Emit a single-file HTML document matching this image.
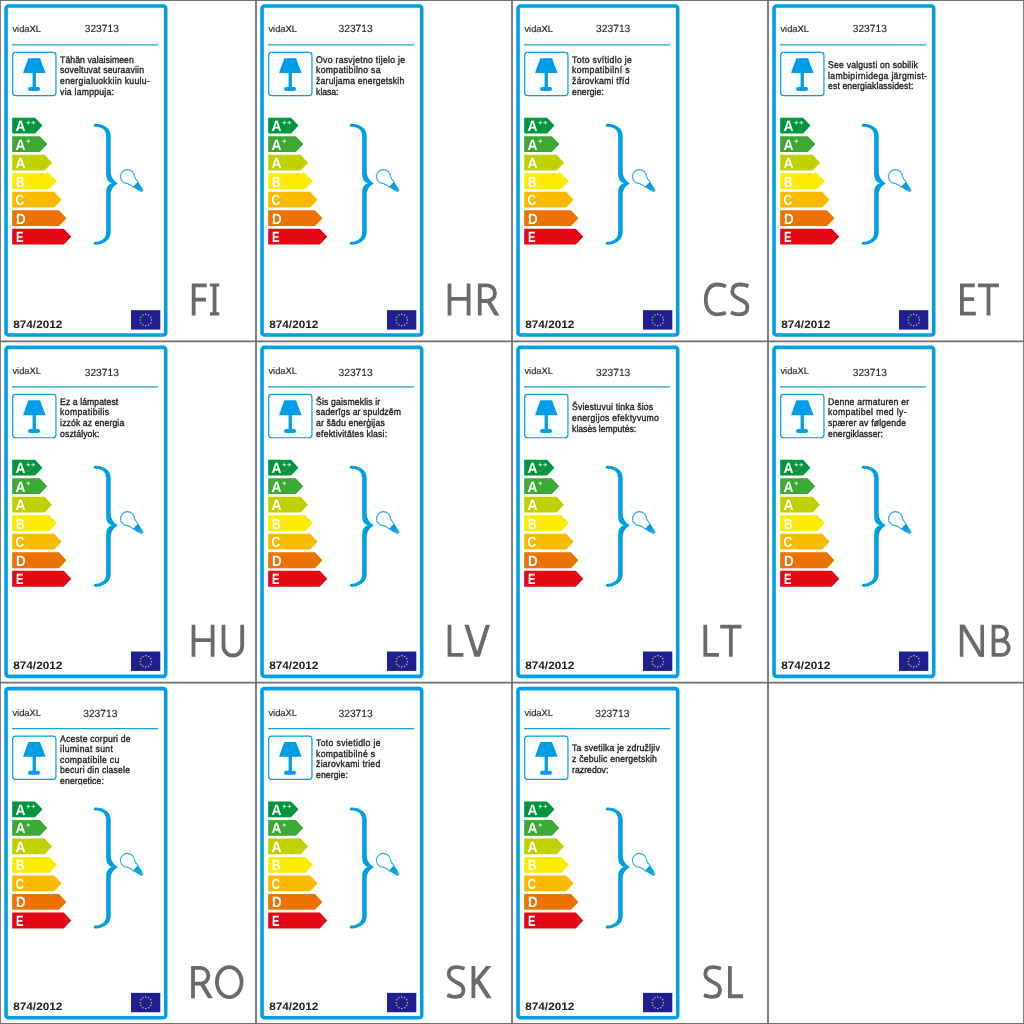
<!DOCTYPE html>
<html><head><meta charset="utf-8"><title>Energy labels</title>
<style>html,body{margin:0;padding:0;background:#fff}body{width:1024px;height:1024px;overflow:hidden}svg{display:block;will-change:transform;font-family:"Liberation Sans",sans-serif;text-rendering:geometricPrecision}</style></head><body>
<svg width="1024" height="1024" viewBox="0 0 1024 1024">
<defs><clipPath id="lc"><rect x="180" y="283.4" width="75" height="32.1"/></clipPath><clipPath id="tc"><rect x="55" y="48" width="110" height="53"/></clipPath><linearGradient id="bg" x1="0" x2="1" y1="0" y2="0"><stop offset="0" stop-color="#009ee5"/><stop offset=".55" stop-color="#11a3e6"/><stop offset="1" stop-color="#58bdec"/></linearGradient></defs>
<rect width="1024" height="1024" fill="#fff"/>
<g transform="translate(0 0)">
<rect x="6.05" y="6" width="159.65" height="329.05" rx="2.4" fill="#fff" stroke="#009ee5" stroke-width="3.6"/>
<g>
<text x="12.4" y="31.8" font-size="9.4" fill="#262626" stroke="#262626" stroke-width=".15" textLength="28.6" lengthAdjust="spacingAndGlyphs">vidaXL</text>
<text x="84.69999999999999" y="32.4" font-size="10.4" fill="#262626" stroke="#262626" stroke-width=".12" textLength="34.2" lengthAdjust="spacingAndGlyphs">323713</text>
<line x1="12" y1="44.9" x2="158" y2="44.9" stroke="#12a3e6" stroke-width="1.25"/>
<rect x="12.65" y="52.4" width="43.3" height="43.3" rx="3" fill="none" stroke="#009ee5" stroke-width="1.2"/>
<path d="M28.3 58.2H40L45.6 73.1H35.9V86.9H38A2 2 0 0 1 38 90.9H30A2 2 0 0 1 30 86.9H32.6V73.1H23Z" fill="#009ee5"/>
<g font-size="9.6" fill="#1c1c1c" stroke="#1c1c1c" stroke-width=".36">
<text transform="translate(60.1 62.66) scale(0.9 1)" textLength="81.78" lengthAdjust="spacing">Tähän valaisimeen</text>
<text transform="translate(60.1 73.39) scale(0.9 1)" textLength="93.22" lengthAdjust="spacing">soveltuvat seuraaviin</text>
<text transform="translate(60.1 84.12) scale(0.9 1)" textLength="99.56" lengthAdjust="spacing">energialuokkiin kuulu-</text>
<text transform="translate(60.1 94.84) scale(0.9 1)" textLength="59.89" lengthAdjust="spacing">via lamppuja:</text>
</g>
<path d="M12.2 117.7H35L42.5 125.6L35 133.5H12.2Z" fill="#009640"/>
<text transform="translate(15.6 131) scale(0.93 1)" font-size="14.8" font-weight="bold" fill="#fff">A</text>
<path d="M26.4 122.7H30.2M28.3 120.8V124.6" stroke="#fff" stroke-opacity=".9" stroke-width=".85" fill="none"/>
<path d="M31.4 122.7H35.2M33.3 120.8V124.6" stroke="#fff" stroke-opacity=".9" stroke-width=".85" fill="none"/>
<path d="M12.2 136.22H39.79L47.29 144.12L39.79 152.02H12.2Z" fill="#3aaa35"/>
<text transform="translate(15.6 149.52) scale(0.93 1)" font-size="14.8" font-weight="bold" fill="#fff">A</text>
<path d="M26.4 141.22H30.2M28.3 139.32V143.12" stroke="#fff" stroke-opacity=".9" stroke-width=".85" fill="none"/>
<path d="M12.2 154.74H44.58L52.08 162.64L44.58 170.54H12.2Z" fill="#c1d100"/>
<text transform="translate(15.6 168.04) scale(0.93 1)" font-size="14.8" font-weight="bold" fill="#fff">A</text>
<path d="M12.2 173.26H49.37L56.87 181.16L49.37 189.06H12.2Z" fill="#fdeb00"/>
<text transform="translate(15.9 186.56) scale(0.8 1)" font-size="14.8" font-weight="bold" fill="#fff">B</text>
<path d="M12.2 191.78H54.16L61.66 199.68L54.16 207.58H12.2Z" fill="#fbb900"/>
<text transform="translate(15.5 205.08) scale(0.82 1)" font-size="14.8" font-weight="bold" fill="#fff">C</text>
<path d="M12.2 210.3H58.95L66.45 218.2L58.95 226.1H12.2Z" fill="#ee7203"/>
<text transform="translate(15.9 223.6) scale(0.9 1)" font-size="14.8" font-weight="bold" fill="#fff">D</text>
<path d="M12.2 228.82H63.74L71.24 236.72L63.74 244.62H12.2Z" fill="#e30613"/>
<text transform="translate(15.9 242.12) scale(0.76 1)" font-size="14.8" font-weight="bold" fill="#fff">E</text>
<path d="M95.2 123.7C101 123.5 110.7 126.5 110.7 135.5V172C110.7 176 113 180.5 118 183.3C113 186.1 110.7 190.6 110.7 194.6V232.5C110.7 241.5 101 244.8 95.2 244.8A1.5 1.5 0 0 1 95.2 241.8C100.5 241.8 106.2 239 106.2 232V192C106.2 187.5 108 184.8 111.6 183.3C108 181.8 106.2 179.1 106.2 174.6V136C106.2 129 100.5 126.7 95.2 126.7A1.5 1.5 0 0 1 95.2 123.7Z" fill="#009ee5"/>
<g transform="translate(127.5 176.6) rotate(44)"><path d="M4.95 4.95A7 7 0 1 1 4.95 -4.95Q7 -3.7 11.6 -3.4V3.4Q7 3.7 4.95 4.95Z" fill="#fff" stroke="#2cabe8" stroke-width="1.1" stroke-linejoin="round"/><path d="M11.4 -3.6L19.4 -2A2 2 0 0 1 19.4 2L11.4 3.6Z" fill="url(#bg)"/></g>
</g>
<text x="13.2" y="327.8" font-size="10.8" font-weight="bold" fill="#1c1c1c" textLength="49.2" lengthAdjust="spacingAndGlyphs">874/2012</text>
<rect x="131" y="310.2" width="29.3" height="19.4" fill="#1f1f92"/>
<circle cx="145.8" cy="314.35" r="0.75" fill="#d2c95a"/>
<circle cx="148.65" cy="315.11" r="0.75" fill="#d2c95a"/>
<circle cx="150.74" cy="317.2" r="0.75" fill="#d2c95a"/>
<circle cx="151.5" cy="320.05" r="0.75" fill="#d2c95a"/>
<circle cx="150.74" cy="322.9" r="0.75" fill="#d2c95a"/>
<circle cx="148.65" cy="324.99" r="0.75" fill="#d2c95a"/>
<circle cx="145.8" cy="325.75" r="0.75" fill="#d2c95a"/>
<circle cx="142.95" cy="324.99" r="0.75" fill="#d2c95a"/>
<circle cx="140.86" cy="322.9" r="0.75" fill="#d2c95a"/>
<circle cx="140.1" cy="320.05" r="0.75" fill="#d2c95a"/>
<circle cx="140.86" cy="317.2" r="0.75" fill="#d2c95a"/>
<circle cx="142.95" cy="315.11" r="0.75" fill="#d2c95a"/>
<path d="M206.75 285.3H193.65V315.5M193.65 299.7H206.05" fill="none" stroke="#6a6a6a" stroke-width="3.8" stroke-linejoin="miter" stroke-linecap="butt"/>
<path d="M209.9 283.4H219.25V286.6H216.47V312.3H219.25V315.5H209.9V312.3H212.67V286.6H209.9Z" fill="#6a6a6a"/>
</g>
<g transform="translate(256 0)">
<rect x="6.05" y="6" width="159.65" height="329.05" rx="2.4" fill="#fff" stroke="#009ee5" stroke-width="3.6"/>
<g>
<text x="12.4" y="31.8" font-size="9.4" fill="#262626" stroke="#262626" stroke-width=".15" textLength="28.6" lengthAdjust="spacingAndGlyphs">vidaXL</text>
<text x="82.5" y="32.4" font-size="10.4" fill="#262626" stroke="#262626" stroke-width=".12" textLength="34.2" lengthAdjust="spacingAndGlyphs">323713</text>
<line x1="12" y1="44.9" x2="158" y2="44.9" stroke="#12a3e6" stroke-width="1.25"/>
<rect x="12.65" y="52.4" width="43.3" height="43.3" rx="3" fill="none" stroke="#009ee5" stroke-width="1.2"/>
<path d="M28.3 58.2H40L45.6 73.1H35.9V86.9H38A2 2 0 0 1 38 90.9H30A2 2 0 0 1 30 86.9H32.6V73.1H23Z" fill="#009ee5"/>
<g font-size="9.6" fill="#1c1c1c" stroke="#1c1c1c" stroke-width=".36">
<text transform="translate(60.1 62.66) scale(0.9 1)" textLength="98.89" lengthAdjust="spacing">Ovo rasvjetno tijelo je</text>
<text transform="translate(60.1 73.39) scale(0.9 1)" textLength="71.56" lengthAdjust="spacing">kompatibilno sa</text>
<text transform="translate(60.1 84.12) scale(0.9 1)" textLength="97.89" lengthAdjust="spacing">žaruljama energetskih</text>
<text transform="translate(60.1 94.84) scale(0.9 1)" textLength="24.89" lengthAdjust="spacing">klasa:</text>
</g>
<path d="M12.2 117.7H35L42.5 125.6L35 133.5H12.2Z" fill="#009640"/>
<text transform="translate(15.6 131) scale(0.93 1)" font-size="14.8" font-weight="bold" fill="#fff">A</text>
<path d="M26.4 122.7H30.2M28.3 120.8V124.6" stroke="#fff" stroke-opacity=".9" stroke-width=".85" fill="none"/>
<path d="M31.4 122.7H35.2M33.3 120.8V124.6" stroke="#fff" stroke-opacity=".9" stroke-width=".85" fill="none"/>
<path d="M12.2 136.22H39.79L47.29 144.12L39.79 152.02H12.2Z" fill="#3aaa35"/>
<text transform="translate(15.6 149.52) scale(0.93 1)" font-size="14.8" font-weight="bold" fill="#fff">A</text>
<path d="M26.4 141.22H30.2M28.3 139.32V143.12" stroke="#fff" stroke-opacity=".9" stroke-width=".85" fill="none"/>
<path d="M12.2 154.74H44.58L52.08 162.64L44.58 170.54H12.2Z" fill="#c1d100"/>
<text transform="translate(15.6 168.04) scale(0.93 1)" font-size="14.8" font-weight="bold" fill="#fff">A</text>
<path d="M12.2 173.26H49.37L56.87 181.16L49.37 189.06H12.2Z" fill="#fdeb00"/>
<text transform="translate(15.9 186.56) scale(0.8 1)" font-size="14.8" font-weight="bold" fill="#fff">B</text>
<path d="M12.2 191.78H54.16L61.66 199.68L54.16 207.58H12.2Z" fill="#fbb900"/>
<text transform="translate(15.5 205.08) scale(0.82 1)" font-size="14.8" font-weight="bold" fill="#fff">C</text>
<path d="M12.2 210.3H58.95L66.45 218.2L58.95 226.1H12.2Z" fill="#ee7203"/>
<text transform="translate(15.9 223.6) scale(0.9 1)" font-size="14.8" font-weight="bold" fill="#fff">D</text>
<path d="M12.2 228.82H63.74L71.24 236.72L63.74 244.62H12.2Z" fill="#e30613"/>
<text transform="translate(15.9 242.12) scale(0.76 1)" font-size="14.8" font-weight="bold" fill="#fff">E</text>
<path d="M95.2 123.7C101 123.5 110.7 126.5 110.7 135.5V172C110.7 176 113 180.5 118 183.3C113 186.1 110.7 190.6 110.7 194.6V232.5C110.7 241.5 101 244.8 95.2 244.8A1.5 1.5 0 0 1 95.2 241.8C100.5 241.8 106.2 239 106.2 232V192C106.2 187.5 108 184.8 111.6 183.3C108 181.8 106.2 179.1 106.2 174.6V136C106.2 129 100.5 126.7 95.2 126.7A1.5 1.5 0 0 1 95.2 123.7Z" fill="#009ee5"/>
<g transform="translate(127.5 176.6) rotate(44)"><path d="M4.95 4.95A7 7 0 1 1 4.95 -4.95Q7 -3.7 11.6 -3.4V3.4Q7 3.7 4.95 4.95Z" fill="#fff" stroke="#2cabe8" stroke-width="1.1" stroke-linejoin="round"/><path d="M11.4 -3.6L19.4 -2A2 2 0 0 1 19.4 2L11.4 3.6Z" fill="url(#bg)"/></g>
</g>
<text x="13.2" y="327.8" font-size="10.8" font-weight="bold" fill="#1c1c1c" textLength="49.2" lengthAdjust="spacingAndGlyphs">874/2012</text>
<rect x="131" y="310.2" width="29.3" height="19.4" fill="#1f1f92"/>
<circle cx="145.8" cy="314.35" r="0.75" fill="#d2c95a"/>
<circle cx="148.65" cy="315.11" r="0.75" fill="#d2c95a"/>
<circle cx="150.74" cy="317.2" r="0.75" fill="#d2c95a"/>
<circle cx="151.5" cy="320.05" r="0.75" fill="#d2c95a"/>
<circle cx="150.74" cy="322.9" r="0.75" fill="#d2c95a"/>
<circle cx="148.65" cy="324.99" r="0.75" fill="#d2c95a"/>
<circle cx="145.8" cy="325.75" r="0.75" fill="#d2c95a"/>
<circle cx="142.95" cy="324.99" r="0.75" fill="#d2c95a"/>
<circle cx="140.86" cy="322.9" r="0.75" fill="#d2c95a"/>
<circle cx="140.1" cy="320.05" r="0.75" fill="#d2c95a"/>
<circle cx="140.86" cy="317.2" r="0.75" fill="#d2c95a"/>
<circle cx="142.95" cy="315.11" r="0.75" fill="#d2c95a"/>
<path d="M193.5 283.4V315.5M212.6 283.4V315.5M193.5 298.8H212.6" fill="none" stroke="#6a6a6a" stroke-width="3.8" stroke-linejoin="miter" stroke-linecap="butt"/>
<path d="M223.75 315.5V285.3H231.15A7.85 7.85 0 0 1 231.15 301H223.75" fill="none" stroke="#6a6a6a" stroke-width="3.8" stroke-linejoin="miter" stroke-linecap="butt"/><path d="M232.03 300.5L242.2 317.5" fill="none" stroke="#6a6a6a" stroke-width="4.1" stroke-linejoin="miter" stroke-linecap="butt" clip-path="url(#lc)"/>
</g>
<g transform="translate(512 0)">
<rect x="6.05" y="6" width="159.65" height="329.05" rx="2.4" fill="#fff" stroke="#009ee5" stroke-width="3.6"/>
<g>
<text x="12.4" y="31.8" font-size="9.4" fill="#262626" stroke="#262626" stroke-width=".15" textLength="28.6" lengthAdjust="spacingAndGlyphs">vidaXL</text>
<text x="84.1" y="32.4" font-size="10.4" fill="#262626" stroke="#262626" stroke-width=".12" textLength="34.2" lengthAdjust="spacingAndGlyphs">323713</text>
<line x1="12" y1="44.9" x2="158" y2="44.9" stroke="#12a3e6" stroke-width="1.25"/>
<rect x="12.65" y="52.4" width="43.3" height="43.3" rx="3" fill="none" stroke="#009ee5" stroke-width="1.2"/>
<path d="M28.3 58.2H40L45.6 73.1H35.9V86.9H38A2 2 0 0 1 38 90.9H30A2 2 0 0 1 30 86.9H32.6V73.1H23Z" fill="#009ee5"/>
<g font-size="9.6" fill="#1c1c1c" stroke="#1c1c1c" stroke-width=".36">
<text transform="translate(60.1 62.66) scale(0.9 1)" textLength="66.44" lengthAdjust="spacing">Toto svítidlo je</text>
<text transform="translate(60.1 73.39) scale(0.9 1)" textLength="63.78" lengthAdjust="spacing">kompatibilní s</text>
<text transform="translate(60.1 84.12) scale(0.9 1)" textLength="63.78" lengthAdjust="spacing">žárovkami tříd</text>
<text transform="translate(60.1 94.84) scale(0.9 1)" textLength="35.22" lengthAdjust="spacing">energie:</text>
</g>
<path d="M12.2 117.7H35L42.5 125.6L35 133.5H12.2Z" fill="#009640"/>
<text transform="translate(15.6 131) scale(0.93 1)" font-size="14.8" font-weight="bold" fill="#fff">A</text>
<path d="M26.4 122.7H30.2M28.3 120.8V124.6" stroke="#fff" stroke-opacity=".9" stroke-width=".85" fill="none"/>
<path d="M31.4 122.7H35.2M33.3 120.8V124.6" stroke="#fff" stroke-opacity=".9" stroke-width=".85" fill="none"/>
<path d="M12.2 136.22H39.79L47.29 144.12L39.79 152.02H12.2Z" fill="#3aaa35"/>
<text transform="translate(15.6 149.52) scale(0.93 1)" font-size="14.8" font-weight="bold" fill="#fff">A</text>
<path d="M26.4 141.22H30.2M28.3 139.32V143.12" stroke="#fff" stroke-opacity=".9" stroke-width=".85" fill="none"/>
<path d="M12.2 154.74H44.58L52.08 162.64L44.58 170.54H12.2Z" fill="#c1d100"/>
<text transform="translate(15.6 168.04) scale(0.93 1)" font-size="14.8" font-weight="bold" fill="#fff">A</text>
<path d="M12.2 173.26H49.37L56.87 181.16L49.37 189.06H12.2Z" fill="#fdeb00"/>
<text transform="translate(15.9 186.56) scale(0.8 1)" font-size="14.8" font-weight="bold" fill="#fff">B</text>
<path d="M12.2 191.78H54.16L61.66 199.68L54.16 207.58H12.2Z" fill="#fbb900"/>
<text transform="translate(15.5 205.08) scale(0.82 1)" font-size="14.8" font-weight="bold" fill="#fff">C</text>
<path d="M12.2 210.3H58.95L66.45 218.2L58.95 226.1H12.2Z" fill="#ee7203"/>
<text transform="translate(15.9 223.6) scale(0.9 1)" font-size="14.8" font-weight="bold" fill="#fff">D</text>
<path d="M12.2 228.82H63.74L71.24 236.72L63.74 244.62H12.2Z" fill="#e30613"/>
<text transform="translate(15.9 242.12) scale(0.76 1)" font-size="14.8" font-weight="bold" fill="#fff">E</text>
<path d="M95.2 123.7C101 123.5 110.7 126.5 110.7 135.5V172C110.7 176 113 180.5 118 183.3C113 186.1 110.7 190.6 110.7 194.6V232.5C110.7 241.5 101 244.8 95.2 244.8A1.5 1.5 0 0 1 95.2 241.8C100.5 241.8 106.2 239 106.2 232V192C106.2 187.5 108 184.8 111.6 183.3C108 181.8 106.2 179.1 106.2 174.6V136C106.2 129 100.5 126.7 95.2 126.7A1.5 1.5 0 0 1 95.2 123.7Z" fill="#009ee5"/>
<g transform="translate(127.5 176.6) rotate(44)"><path d="M4.95 4.95A7 7 0 1 1 4.95 -4.95Q7 -3.7 11.6 -3.4V3.4Q7 3.7 4.95 4.95Z" fill="#fff" stroke="#2cabe8" stroke-width="1.1" stroke-linejoin="round"/><path d="M11.4 -3.6L19.4 -2A2 2 0 0 1 19.4 2L11.4 3.6Z" fill="url(#bg)"/></g>
</g>
<text x="13.2" y="327.8" font-size="10.8" font-weight="bold" fill="#1c1c1c" textLength="49.2" lengthAdjust="spacingAndGlyphs">874/2012</text>
<rect x="131" y="310.2" width="29.3" height="19.4" fill="#1f1f92"/>
<circle cx="145.8" cy="314.35" r="0.75" fill="#d2c95a"/>
<circle cx="148.65" cy="315.11" r="0.75" fill="#d2c95a"/>
<circle cx="150.74" cy="317.2" r="0.75" fill="#d2c95a"/>
<circle cx="151.5" cy="320.05" r="0.75" fill="#d2c95a"/>
<circle cx="150.74" cy="322.9" r="0.75" fill="#d2c95a"/>
<circle cx="148.65" cy="324.99" r="0.75" fill="#d2c95a"/>
<circle cx="145.8" cy="325.75" r="0.75" fill="#d2c95a"/>
<circle cx="142.95" cy="324.99" r="0.75" fill="#d2c95a"/>
<circle cx="140.86" cy="322.9" r="0.75" fill="#d2c95a"/>
<circle cx="140.1" cy="320.05" r="0.75" fill="#d2c95a"/>
<circle cx="140.86" cy="317.2" r="0.75" fill="#d2c95a"/>
<circle cx="142.95" cy="315.11" r="0.75" fill="#d2c95a"/>
<path d="M214 286.4C211 285 208.78 284.5 205.28 284.5C197.78 284.5 193.8 290.95 193.8 299.45C193.8 307.95 197.78 314.3 205.28 314.3C208.78 314.3 211 313.8 214 312.7" fill="none" stroke="#6a6a6a" stroke-width="3.8" stroke-linejoin="round" stroke-linecap="butt"/>
<path d="M236.4 286.1C233.7 285.1 231.45 284.5 228.25 284.5C222.85 284.5 220.3 287.1 220.3 291.4C220.3 296 224.65 297.6 227.85 299.4C231.45 301 235.4 302.6 235.4 307.2C235.4 311.9 232.45 314.3 227.25 314.3C223.45 314.3 221.8 313.4 218.9 312.4" fill="none" stroke="#6a6a6a" stroke-width="3.8" stroke-linejoin="round" stroke-linecap="butt"/>
</g>
<g transform="translate(768 0)">
<rect x="6.05" y="6" width="159.65" height="329.05" rx="2.4" fill="#fff" stroke="#009ee5" stroke-width="3.6"/>
<g>
<text x="12.4" y="31.8" font-size="9.4" fill="#262626" stroke="#262626" stroke-width=".15" textLength="28.6" lengthAdjust="spacingAndGlyphs">vidaXL</text>
<text x="84.69999999999999" y="32.4" font-size="10.4" fill="#262626" stroke="#262626" stroke-width=".12" textLength="34.2" lengthAdjust="spacingAndGlyphs">323713</text>
<line x1="12" y1="44.9" x2="158" y2="44.9" stroke="#12a3e6" stroke-width="1.25"/>
<rect x="12.65" y="52.4" width="43.3" height="43.3" rx="3" fill="none" stroke="#009ee5" stroke-width="1.2"/>
<path d="M28.3 58.2H40L45.6 73.1H35.9V86.9H38A2 2 0 0 1 38 90.9H30A2 2 0 0 1 30 86.9H32.6V73.1H23Z" fill="#009ee5"/>
<g font-size="9.6" fill="#1c1c1c" stroke="#1c1c1c" stroke-width=".36">
<text transform="translate(60.1 68.02) scale(0.9 1)" textLength="99.78" lengthAdjust="spacing">See valgusti on sobilik</text>
<text transform="translate(60.1 78.75) scale(0.9 1)" textLength="109.89" lengthAdjust="spacing">lambipirnidega järgmist-</text>
<text transform="translate(60.1 89.48) scale(0.9 1)" textLength="94.67" lengthAdjust="spacing">est energiaklassidest:</text>
</g>
<path d="M12.2 117.7H35L42.5 125.6L35 133.5H12.2Z" fill="#009640"/>
<text transform="translate(15.6 131) scale(0.93 1)" font-size="14.8" font-weight="bold" fill="#fff">A</text>
<path d="M26.4 122.7H30.2M28.3 120.8V124.6" stroke="#fff" stroke-opacity=".9" stroke-width=".85" fill="none"/>
<path d="M31.4 122.7H35.2M33.3 120.8V124.6" stroke="#fff" stroke-opacity=".9" stroke-width=".85" fill="none"/>
<path d="M12.2 136.22H39.79L47.29 144.12L39.79 152.02H12.2Z" fill="#3aaa35"/>
<text transform="translate(15.6 149.52) scale(0.93 1)" font-size="14.8" font-weight="bold" fill="#fff">A</text>
<path d="M26.4 141.22H30.2M28.3 139.32V143.12" stroke="#fff" stroke-opacity=".9" stroke-width=".85" fill="none"/>
<path d="M12.2 154.74H44.58L52.08 162.64L44.58 170.54H12.2Z" fill="#c1d100"/>
<text transform="translate(15.6 168.04) scale(0.93 1)" font-size="14.8" font-weight="bold" fill="#fff">A</text>
<path d="M12.2 173.26H49.37L56.87 181.16L49.37 189.06H12.2Z" fill="#fdeb00"/>
<text transform="translate(15.9 186.56) scale(0.8 1)" font-size="14.8" font-weight="bold" fill="#fff">B</text>
<path d="M12.2 191.78H54.16L61.66 199.68L54.16 207.58H12.2Z" fill="#fbb900"/>
<text transform="translate(15.5 205.08) scale(0.82 1)" font-size="14.8" font-weight="bold" fill="#fff">C</text>
<path d="M12.2 210.3H58.95L66.45 218.2L58.95 226.1H12.2Z" fill="#ee7203"/>
<text transform="translate(15.9 223.6) scale(0.9 1)" font-size="14.8" font-weight="bold" fill="#fff">D</text>
<path d="M12.2 228.82H63.74L71.24 236.72L63.74 244.62H12.2Z" fill="#e30613"/>
<text transform="translate(15.9 242.12) scale(0.76 1)" font-size="14.8" font-weight="bold" fill="#fff">E</text>
<path d="M95.2 123.7C101 123.5 110.7 126.5 110.7 135.5V172C110.7 176 113 180.5 118 183.3C113 186.1 110.7 190.6 110.7 194.6V232.5C110.7 241.5 101 244.8 95.2 244.8A1.5 1.5 0 0 1 95.2 241.8C100.5 241.8 106.2 239 106.2 232V192C106.2 187.5 108 184.8 111.6 183.3C108 181.8 106.2 179.1 106.2 174.6V136C106.2 129 100.5 126.7 95.2 126.7A1.5 1.5 0 0 1 95.2 123.7Z" fill="#009ee5"/>
<g transform="translate(127.5 176.6) rotate(44)"><path d="M4.95 4.95A7 7 0 1 1 4.95 -4.95Q7 -3.7 11.6 -3.4V3.4Q7 3.7 4.95 4.95Z" fill="#fff" stroke="#2cabe8" stroke-width="1.1" stroke-linejoin="round"/><path d="M11.4 -3.6L19.4 -2A2 2 0 0 1 19.4 2L11.4 3.6Z" fill="url(#bg)"/></g>
</g>
<text x="13.2" y="327.8" font-size="10.8" font-weight="bold" fill="#1c1c1c" textLength="49.2" lengthAdjust="spacingAndGlyphs">874/2012</text>
<rect x="131" y="310.2" width="29.3" height="19.4" fill="#1f1f92"/>
<circle cx="145.8" cy="314.35" r="0.75" fill="#d2c95a"/>
<circle cx="148.65" cy="315.11" r="0.75" fill="#d2c95a"/>
<circle cx="150.74" cy="317.2" r="0.75" fill="#d2c95a"/>
<circle cx="151.5" cy="320.05" r="0.75" fill="#d2c95a"/>
<circle cx="150.74" cy="322.9" r="0.75" fill="#d2c95a"/>
<circle cx="148.65" cy="324.99" r="0.75" fill="#d2c95a"/>
<circle cx="145.8" cy="325.75" r="0.75" fill="#d2c95a"/>
<circle cx="142.95" cy="324.99" r="0.75" fill="#d2c95a"/>
<circle cx="140.86" cy="322.9" r="0.75" fill="#d2c95a"/>
<circle cx="140.1" cy="320.05" r="0.75" fill="#d2c95a"/>
<circle cx="140.86" cy="317.2" r="0.75" fill="#d2c95a"/>
<circle cx="142.95" cy="315.11" r="0.75" fill="#d2c95a"/>
<path d="M206.9 285.3H193.9V313.6H207.8M193.9 299.2H206.1" fill="none" stroke="#6a6a6a" stroke-width="3.8" stroke-linejoin="miter" stroke-linecap="butt"/>
<path d="M210 285.3H231M220.5 283.4V315.5" fill="none" stroke="#6a6a6a" stroke-width="3.8" stroke-linejoin="miter" stroke-linecap="butt"/>
</g>
<g transform="translate(0 341.33)">
<rect x="6.05" y="6" width="159.65" height="329.05" rx="2.4" fill="#fff" stroke="#009ee5" stroke-width="3.6"/>
<g transform="translate(0 0.7)">
<text x="12.4" y="31.8" font-size="9.4" fill="#262626" stroke="#262626" stroke-width=".15" textLength="28.6" lengthAdjust="spacingAndGlyphs">vidaXL</text>
<text x="84.69999999999999" y="33.7" font-size="10.4" fill="#262626" stroke="#262626" stroke-width=".12" textLength="34.2" lengthAdjust="spacingAndGlyphs">323713</text>
<line x1="12" y1="44.9" x2="158" y2="44.9" stroke="#12a3e6" stroke-width="1.25"/>
<rect x="12.65" y="52.4" width="43.3" height="43.3" rx="3" fill="none" stroke="#009ee5" stroke-width="1.2"/>
<path d="M28.3 58.2H40L45.6 73.1H35.9V86.9H38A2 2 0 0 1 38 90.9H30A2 2 0 0 1 30 86.9H32.6V73.1H23Z" fill="#009ee5"/>
<g font-size="9.6" fill="#1c1c1c" stroke="#1c1c1c" stroke-width=".36">
<text transform="translate(60.1 62.66) scale(0.9 1)" textLength="64.56" lengthAdjust="spacing">Ez a lámpatest</text>
<text transform="translate(60.1 73.39) scale(0.9 1)" textLength="54.33" lengthAdjust="spacing">kompatibilis</text>
<text transform="translate(60.1 84.12) scale(0.9 1)" textLength="71.22" lengthAdjust="spacing">izzók az energia</text>
<text transform="translate(60.1 94.84) scale(0.9 1)" textLength="43.56" lengthAdjust="spacing">osztályok:</text>
</g>
<path d="M12.2 117.7H35L42.5 125.6L35 133.5H12.2Z" fill="#009640"/>
<text transform="translate(15.6 131) scale(0.93 1)" font-size="14.8" font-weight="bold" fill="#fff">A</text>
<path d="M26.4 122.7H30.2M28.3 120.8V124.6" stroke="#fff" stroke-opacity=".9" stroke-width=".85" fill="none"/>
<path d="M31.4 122.7H35.2M33.3 120.8V124.6" stroke="#fff" stroke-opacity=".9" stroke-width=".85" fill="none"/>
<path d="M12.2 136.22H39.79L47.29 144.12L39.79 152.02H12.2Z" fill="#3aaa35"/>
<text transform="translate(15.6 149.52) scale(0.93 1)" font-size="14.8" font-weight="bold" fill="#fff">A</text>
<path d="M26.4 141.22H30.2M28.3 139.32V143.12" stroke="#fff" stroke-opacity=".9" stroke-width=".85" fill="none"/>
<path d="M12.2 154.74H44.58L52.08 162.64L44.58 170.54H12.2Z" fill="#c1d100"/>
<text transform="translate(15.6 168.04) scale(0.93 1)" font-size="14.8" font-weight="bold" fill="#fff">A</text>
<path d="M12.2 173.26H49.37L56.87 181.16L49.37 189.06H12.2Z" fill="#fdeb00"/>
<text transform="translate(15.9 186.56) scale(0.8 1)" font-size="14.8" font-weight="bold" fill="#fff">B</text>
<path d="M12.2 191.78H54.16L61.66 199.68L54.16 207.58H12.2Z" fill="#fbb900"/>
<text transform="translate(15.5 205.08) scale(0.82 1)" font-size="14.8" font-weight="bold" fill="#fff">C</text>
<path d="M12.2 210.3H58.95L66.45 218.2L58.95 226.1H12.2Z" fill="#ee7203"/>
<text transform="translate(15.9 223.6) scale(0.9 1)" font-size="14.8" font-weight="bold" fill="#fff">D</text>
<path d="M12.2 228.82H63.74L71.24 236.72L63.74 244.62H12.2Z" fill="#e30613"/>
<text transform="translate(15.9 242.12) scale(0.76 1)" font-size="14.8" font-weight="bold" fill="#fff">E</text>
<path d="M95.2 123.7C101 123.5 110.7 126.5 110.7 135.5V172C110.7 176 113 180.5 118 183.3C113 186.1 110.7 190.6 110.7 194.6V232.5C110.7 241.5 101 244.8 95.2 244.8A1.5 1.5 0 0 1 95.2 241.8C100.5 241.8 106.2 239 106.2 232V192C106.2 187.5 108 184.8 111.6 183.3C108 181.8 106.2 179.1 106.2 174.6V136C106.2 129 100.5 126.7 95.2 126.7A1.5 1.5 0 0 1 95.2 123.7Z" fill="#009ee5"/>
<g transform="translate(127.5 176.6) rotate(44)"><path d="M4.95 4.95A7 7 0 1 1 4.95 -4.95Q7 -3.7 11.6 -3.4V3.4Q7 3.7 4.95 4.95Z" fill="#fff" stroke="#2cabe8" stroke-width="1.1" stroke-linejoin="round"/><path d="M11.4 -3.6L19.4 -2A2 2 0 0 1 19.4 2L11.4 3.6Z" fill="url(#bg)"/></g>
</g>
<text x="13.2" y="327.8" font-size="10.8" font-weight="bold" fill="#1c1c1c" textLength="49.2" lengthAdjust="spacingAndGlyphs">874/2012</text>
<rect x="131" y="310.2" width="29.3" height="19.4" fill="#1f1f92"/>
<circle cx="145.8" cy="314.35" r="0.75" fill="#d2c95a"/>
<circle cx="148.65" cy="315.11" r="0.75" fill="#d2c95a"/>
<circle cx="150.74" cy="317.2" r="0.75" fill="#d2c95a"/>
<circle cx="151.5" cy="320.05" r="0.75" fill="#d2c95a"/>
<circle cx="150.74" cy="322.9" r="0.75" fill="#d2c95a"/>
<circle cx="148.65" cy="324.99" r="0.75" fill="#d2c95a"/>
<circle cx="145.8" cy="325.75" r="0.75" fill="#d2c95a"/>
<circle cx="142.95" cy="324.99" r="0.75" fill="#d2c95a"/>
<circle cx="140.86" cy="322.9" r="0.75" fill="#d2c95a"/>
<circle cx="140.1" cy="320.05" r="0.75" fill="#d2c95a"/>
<circle cx="140.86" cy="317.2" r="0.75" fill="#d2c95a"/>
<circle cx="142.95" cy="315.11" r="0.75" fill="#d2c95a"/>
<path d="M193.5 283.4V315.5M212.6 283.4V315.5M193.5 298.8H212.6" fill="none" stroke="#6a6a6a" stroke-width="3.8" stroke-linejoin="miter" stroke-linecap="butt"/>
<path d="M223.5 283.4V304.85A9.35 9.35 0 0 0 242.2 304.85V283.4" fill="none" stroke="#6a6a6a" stroke-width="3.8" stroke-linejoin="miter" stroke-linecap="butt"/>
</g>
<g transform="translate(256 341.33)">
<rect x="6.05" y="6" width="159.65" height="329.05" rx="2.4" fill="#fff" stroke="#009ee5" stroke-width="3.6"/>
<g transform="translate(0 0.7)">
<text x="12.4" y="31.8" font-size="9.4" fill="#262626" stroke="#262626" stroke-width=".15" textLength="28.6" lengthAdjust="spacingAndGlyphs">vidaXL</text>
<text x="82.5" y="33.7" font-size="10.4" fill="#262626" stroke="#262626" stroke-width=".12" textLength="34.2" lengthAdjust="spacingAndGlyphs">323713</text>
<line x1="12" y1="44.9" x2="158" y2="44.9" stroke="#12a3e6" stroke-width="1.25"/>
<rect x="12.65" y="52.4" width="43.3" height="43.3" rx="3" fill="none" stroke="#009ee5" stroke-width="1.2"/>
<path d="M28.3 58.2H40L45.6 73.1H35.9V86.9H38A2 2 0 0 1 38 90.9H30A2 2 0 0 1 30 86.9H32.6V73.1H23Z" fill="#009ee5"/>
<g font-size="9.6" fill="#1c1c1c" stroke="#1c1c1c" stroke-width=".36">
<text transform="translate(60.1 62.66) scale(0.9 1)" textLength="71.22" lengthAdjust="spacing">Šis gaismeklis ir</text>
<text transform="translate(60.1 73.39) scale(0.9 1)" textLength="94.22" lengthAdjust="spacing">saderīgs ar spuldzēm</text>
<text transform="translate(60.1 84.12) scale(0.9 1)" textLength="76.22" lengthAdjust="spacing">ar šādu enerģijas</text>
<text transform="translate(60.1 94.84) scale(0.9 1)" textLength="78.89" lengthAdjust="spacing">efektivitātes klasi:</text>
</g>
<path d="M12.2 117.7H35L42.5 125.6L35 133.5H12.2Z" fill="#009640"/>
<text transform="translate(15.6 131) scale(0.93 1)" font-size="14.8" font-weight="bold" fill="#fff">A</text>
<path d="M26.4 122.7H30.2M28.3 120.8V124.6" stroke="#fff" stroke-opacity=".9" stroke-width=".85" fill="none"/>
<path d="M31.4 122.7H35.2M33.3 120.8V124.6" stroke="#fff" stroke-opacity=".9" stroke-width=".85" fill="none"/>
<path d="M12.2 136.22H39.79L47.29 144.12L39.79 152.02H12.2Z" fill="#3aaa35"/>
<text transform="translate(15.6 149.52) scale(0.93 1)" font-size="14.8" font-weight="bold" fill="#fff">A</text>
<path d="M26.4 141.22H30.2M28.3 139.32V143.12" stroke="#fff" stroke-opacity=".9" stroke-width=".85" fill="none"/>
<path d="M12.2 154.74H44.58L52.08 162.64L44.58 170.54H12.2Z" fill="#c1d100"/>
<text transform="translate(15.6 168.04) scale(0.93 1)" font-size="14.8" font-weight="bold" fill="#fff">A</text>
<path d="M12.2 173.26H49.37L56.87 181.16L49.37 189.06H12.2Z" fill="#fdeb00"/>
<text transform="translate(15.9 186.56) scale(0.8 1)" font-size="14.8" font-weight="bold" fill="#fff">B</text>
<path d="M12.2 191.78H54.16L61.66 199.68L54.16 207.58H12.2Z" fill="#fbb900"/>
<text transform="translate(15.5 205.08) scale(0.82 1)" font-size="14.8" font-weight="bold" fill="#fff">C</text>
<path d="M12.2 210.3H58.95L66.45 218.2L58.95 226.1H12.2Z" fill="#ee7203"/>
<text transform="translate(15.9 223.6) scale(0.9 1)" font-size="14.8" font-weight="bold" fill="#fff">D</text>
<path d="M12.2 228.82H63.74L71.24 236.72L63.74 244.62H12.2Z" fill="#e30613"/>
<text transform="translate(15.9 242.12) scale(0.76 1)" font-size="14.8" font-weight="bold" fill="#fff">E</text>
<path d="M95.2 123.7C101 123.5 110.7 126.5 110.7 135.5V172C110.7 176 113 180.5 118 183.3C113 186.1 110.7 190.6 110.7 194.6V232.5C110.7 241.5 101 244.8 95.2 244.8A1.5 1.5 0 0 1 95.2 241.8C100.5 241.8 106.2 239 106.2 232V192C106.2 187.5 108 184.8 111.6 183.3C108 181.8 106.2 179.1 106.2 174.6V136C106.2 129 100.5 126.7 95.2 126.7A1.5 1.5 0 0 1 95.2 123.7Z" fill="#009ee5"/>
<g transform="translate(127.5 176.6) rotate(44)"><path d="M4.95 4.95A7 7 0 1 1 4.95 -4.95Q7 -3.7 11.6 -3.4V3.4Q7 3.7 4.95 4.95Z" fill="#fff" stroke="#2cabe8" stroke-width="1.1" stroke-linejoin="round"/><path d="M11.4 -3.6L19.4 -2A2 2 0 0 1 19.4 2L11.4 3.6Z" fill="url(#bg)"/></g>
</g>
<text x="13.2" y="327.8" font-size="10.8" font-weight="bold" fill="#1c1c1c" textLength="49.2" lengthAdjust="spacingAndGlyphs">874/2012</text>
<rect x="131" y="310.2" width="29.3" height="19.4" fill="#1f1f92"/>
<circle cx="145.8" cy="314.35" r="0.75" fill="#d2c95a"/>
<circle cx="148.65" cy="315.11" r="0.75" fill="#d2c95a"/>
<circle cx="150.74" cy="317.2" r="0.75" fill="#d2c95a"/>
<circle cx="151.5" cy="320.05" r="0.75" fill="#d2c95a"/>
<circle cx="150.74" cy="322.9" r="0.75" fill="#d2c95a"/>
<circle cx="148.65" cy="324.99" r="0.75" fill="#d2c95a"/>
<circle cx="145.8" cy="325.75" r="0.75" fill="#d2c95a"/>
<circle cx="142.95" cy="324.99" r="0.75" fill="#d2c95a"/>
<circle cx="140.86" cy="322.9" r="0.75" fill="#d2c95a"/>
<circle cx="140.1" cy="320.05" r="0.75" fill="#d2c95a"/>
<circle cx="140.86" cy="317.2" r="0.75" fill="#d2c95a"/>
<circle cx="142.95" cy="315.11" r="0.75" fill="#d2c95a"/>
<path d="M193.5 283.4V313.6H207.4" fill="none" stroke="#6a6a6a" stroke-width="3.8" stroke-linejoin="miter" stroke-linecap="butt"/>
<path d="M208.4 283.4H212.8L221.2 310.1L229.6 283.4H234L223.9 315.5H218.5Z" fill="#6a6a6a"/>
</g>
<g transform="translate(512 341.33)">
<rect x="6.05" y="6" width="159.65" height="329.05" rx="2.4" fill="#fff" stroke="#009ee5" stroke-width="3.6"/>
<g transform="translate(0 0.7)">
<text x="12.4" y="31.8" font-size="9.4" fill="#262626" stroke="#262626" stroke-width=".15" textLength="28.6" lengthAdjust="spacingAndGlyphs">vidaXL</text>
<text x="84.1" y="33.7" font-size="10.4" fill="#262626" stroke="#262626" stroke-width=".12" textLength="34.2" lengthAdjust="spacingAndGlyphs">323713</text>
<line x1="12" y1="44.9" x2="158" y2="44.9" stroke="#12a3e6" stroke-width="1.25"/>
<rect x="12.65" y="52.4" width="43.3" height="43.3" rx="3" fill="none" stroke="#009ee5" stroke-width="1.2"/>
<path d="M28.3 58.2H40L45.6 73.1H35.9V86.9H38A2 2 0 0 1 38 90.9H30A2 2 0 0 1 30 86.9H32.6V73.1H23Z" fill="#009ee5"/>
<g font-size="9.6" fill="#1c1c1c" stroke="#1c1c1c" stroke-width=".36">
<text transform="translate(60.1 68.02) scale(0.9 1)" textLength="90" lengthAdjust="spacing">Šviestuvui tinka šios</text>
<text transform="translate(60.1 78.75) scale(0.9 1)" textLength="96.44" lengthAdjust="spacing">energijos efektyvumo</text>
<text transform="translate(60.1 89.48) scale(0.9 1)" textLength="71.22" lengthAdjust="spacing">klasės lemputės:</text>
</g>
<path d="M12.2 117.7H35L42.5 125.6L35 133.5H12.2Z" fill="#009640"/>
<text transform="translate(15.6 131) scale(0.93 1)" font-size="14.8" font-weight="bold" fill="#fff">A</text>
<path d="M26.4 122.7H30.2M28.3 120.8V124.6" stroke="#fff" stroke-opacity=".9" stroke-width=".85" fill="none"/>
<path d="M31.4 122.7H35.2M33.3 120.8V124.6" stroke="#fff" stroke-opacity=".9" stroke-width=".85" fill="none"/>
<path d="M12.2 136.22H39.79L47.29 144.12L39.79 152.02H12.2Z" fill="#3aaa35"/>
<text transform="translate(15.6 149.52) scale(0.93 1)" font-size="14.8" font-weight="bold" fill="#fff">A</text>
<path d="M26.4 141.22H30.2M28.3 139.32V143.12" stroke="#fff" stroke-opacity=".9" stroke-width=".85" fill="none"/>
<path d="M12.2 154.74H44.58L52.08 162.64L44.58 170.54H12.2Z" fill="#c1d100"/>
<text transform="translate(15.6 168.04) scale(0.93 1)" font-size="14.8" font-weight="bold" fill="#fff">A</text>
<path d="M12.2 173.26H49.37L56.87 181.16L49.37 189.06H12.2Z" fill="#fdeb00"/>
<text transform="translate(15.9 186.56) scale(0.8 1)" font-size="14.8" font-weight="bold" fill="#fff">B</text>
<path d="M12.2 191.78H54.16L61.66 199.68L54.16 207.58H12.2Z" fill="#fbb900"/>
<text transform="translate(15.5 205.08) scale(0.82 1)" font-size="14.8" font-weight="bold" fill="#fff">C</text>
<path d="M12.2 210.3H58.95L66.45 218.2L58.95 226.1H12.2Z" fill="#ee7203"/>
<text transform="translate(15.9 223.6) scale(0.9 1)" font-size="14.8" font-weight="bold" fill="#fff">D</text>
<path d="M12.2 228.82H63.74L71.24 236.72L63.74 244.62H12.2Z" fill="#e30613"/>
<text transform="translate(15.9 242.12) scale(0.76 1)" font-size="14.8" font-weight="bold" fill="#fff">E</text>
<path d="M95.2 123.7C101 123.5 110.7 126.5 110.7 135.5V172C110.7 176 113 180.5 118 183.3C113 186.1 110.7 190.6 110.7 194.6V232.5C110.7 241.5 101 244.8 95.2 244.8A1.5 1.5 0 0 1 95.2 241.8C100.5 241.8 106.2 239 106.2 232V192C106.2 187.5 108 184.8 111.6 183.3C108 181.8 106.2 179.1 106.2 174.6V136C106.2 129 100.5 126.7 95.2 126.7A1.5 1.5 0 0 1 95.2 123.7Z" fill="#009ee5"/>
<g transform="translate(127.5 176.6) rotate(44)"><path d="M4.95 4.95A7 7 0 1 1 4.95 -4.95Q7 -3.7 11.6 -3.4V3.4Q7 3.7 4.95 4.95Z" fill="#fff" stroke="#2cabe8" stroke-width="1.1" stroke-linejoin="round"/><path d="M11.4 -3.6L19.4 -2A2 2 0 0 1 19.4 2L11.4 3.6Z" fill="url(#bg)"/></g>
</g>
<text x="13.2" y="327.8" font-size="10.8" font-weight="bold" fill="#1c1c1c" textLength="49.2" lengthAdjust="spacingAndGlyphs">874/2012</text>
<rect x="131" y="310.2" width="29.3" height="19.4" fill="#1f1f92"/>
<circle cx="145.8" cy="314.35" r="0.75" fill="#d2c95a"/>
<circle cx="148.65" cy="315.11" r="0.75" fill="#d2c95a"/>
<circle cx="150.74" cy="317.2" r="0.75" fill="#d2c95a"/>
<circle cx="151.5" cy="320.05" r="0.75" fill="#d2c95a"/>
<circle cx="150.74" cy="322.9" r="0.75" fill="#d2c95a"/>
<circle cx="148.65" cy="324.99" r="0.75" fill="#d2c95a"/>
<circle cx="145.8" cy="325.75" r="0.75" fill="#d2c95a"/>
<circle cx="142.95" cy="324.99" r="0.75" fill="#d2c95a"/>
<circle cx="140.86" cy="322.9" r="0.75" fill="#d2c95a"/>
<circle cx="140.1" cy="320.05" r="0.75" fill="#d2c95a"/>
<circle cx="140.86" cy="317.2" r="0.75" fill="#d2c95a"/>
<circle cx="142.95" cy="315.11" r="0.75" fill="#d2c95a"/>
<path d="M193.3 283.4V313.6H207" fill="none" stroke="#6a6a6a" stroke-width="3.8" stroke-linejoin="miter" stroke-linecap="butt"/>
<path d="M208.2 285.3H229.5M218.85 283.4V315.5" fill="none" stroke="#6a6a6a" stroke-width="3.8" stroke-linejoin="miter" stroke-linecap="butt"/>
</g>
<g transform="translate(768 341.33)">
<rect x="6.05" y="6" width="159.65" height="329.05" rx="2.4" fill="#fff" stroke="#009ee5" stroke-width="3.6"/>
<g transform="translate(0 0.7)">
<text x="12.4" y="31.8" font-size="9.4" fill="#262626" stroke="#262626" stroke-width=".15" textLength="28.6" lengthAdjust="spacingAndGlyphs">vidaXL</text>
<text x="84.69999999999999" y="33.7" font-size="10.4" fill="#262626" stroke="#262626" stroke-width=".12" textLength="34.2" lengthAdjust="spacingAndGlyphs">323713</text>
<line x1="12" y1="44.9" x2="158" y2="44.9" stroke="#12a3e6" stroke-width="1.25"/>
<rect x="12.65" y="52.4" width="43.3" height="43.3" rx="3" fill="none" stroke="#009ee5" stroke-width="1.2"/>
<path d="M28.3 58.2H40L45.6 73.1H35.9V86.9H38A2 2 0 0 1 38 90.9H30A2 2 0 0 1 30 86.9H32.6V73.1H23Z" fill="#009ee5"/>
<g font-size="9.6" fill="#1c1c1c" stroke="#1c1c1c" stroke-width=".36">
<text transform="translate(60.1 62.66) scale(0.9 1)" textLength="90" lengthAdjust="spacing">Denne armaturen er</text>
<text transform="translate(60.1 73.39) scale(0.9 1)" textLength="87.22" lengthAdjust="spacing">kompatibel med ly-</text>
<text transform="translate(60.1 84.12) scale(0.9 1)" textLength="86.67" lengthAdjust="spacing">spærer av følgende</text>
<text transform="translate(60.1 94.84) scale(0.9 1)" textLength="60.89" lengthAdjust="spacing">energiklasser:</text>
</g>
<path d="M12.2 117.7H35L42.5 125.6L35 133.5H12.2Z" fill="#009640"/>
<text transform="translate(15.6 131) scale(0.93 1)" font-size="14.8" font-weight="bold" fill="#fff">A</text>
<path d="M26.4 122.7H30.2M28.3 120.8V124.6" stroke="#fff" stroke-opacity=".9" stroke-width=".85" fill="none"/>
<path d="M31.4 122.7H35.2M33.3 120.8V124.6" stroke="#fff" stroke-opacity=".9" stroke-width=".85" fill="none"/>
<path d="M12.2 136.22H39.79L47.29 144.12L39.79 152.02H12.2Z" fill="#3aaa35"/>
<text transform="translate(15.6 149.52) scale(0.93 1)" font-size="14.8" font-weight="bold" fill="#fff">A</text>
<path d="M26.4 141.22H30.2M28.3 139.32V143.12" stroke="#fff" stroke-opacity=".9" stroke-width=".85" fill="none"/>
<path d="M12.2 154.74H44.58L52.08 162.64L44.58 170.54H12.2Z" fill="#c1d100"/>
<text transform="translate(15.6 168.04) scale(0.93 1)" font-size="14.8" font-weight="bold" fill="#fff">A</text>
<path d="M12.2 173.26H49.37L56.87 181.16L49.37 189.06H12.2Z" fill="#fdeb00"/>
<text transform="translate(15.9 186.56) scale(0.8 1)" font-size="14.8" font-weight="bold" fill="#fff">B</text>
<path d="M12.2 191.78H54.16L61.66 199.68L54.16 207.58H12.2Z" fill="#fbb900"/>
<text transform="translate(15.5 205.08) scale(0.82 1)" font-size="14.8" font-weight="bold" fill="#fff">C</text>
<path d="M12.2 210.3H58.95L66.45 218.2L58.95 226.1H12.2Z" fill="#ee7203"/>
<text transform="translate(15.9 223.6) scale(0.9 1)" font-size="14.8" font-weight="bold" fill="#fff">D</text>
<path d="M12.2 228.82H63.74L71.24 236.72L63.74 244.62H12.2Z" fill="#e30613"/>
<text transform="translate(15.9 242.12) scale(0.76 1)" font-size="14.8" font-weight="bold" fill="#fff">E</text>
<path d="M95.2 123.7C101 123.5 110.7 126.5 110.7 135.5V172C110.7 176 113 180.5 118 183.3C113 186.1 110.7 190.6 110.7 194.6V232.5C110.7 241.5 101 244.8 95.2 244.8A1.5 1.5 0 0 1 95.2 241.8C100.5 241.8 106.2 239 106.2 232V192C106.2 187.5 108 184.8 111.6 183.3C108 181.8 106.2 179.1 106.2 174.6V136C106.2 129 100.5 126.7 95.2 126.7A1.5 1.5 0 0 1 95.2 123.7Z" fill="#009ee5"/>
<g transform="translate(127.5 176.6) rotate(44)"><path d="M4.95 4.95A7 7 0 1 1 4.95 -4.95Q7 -3.7 11.6 -3.4V3.4Q7 3.7 4.95 4.95Z" fill="#fff" stroke="#2cabe8" stroke-width="1.1" stroke-linejoin="round"/><path d="M11.4 -3.6L19.4 -2A2 2 0 0 1 19.4 2L11.4 3.6Z" fill="url(#bg)"/></g>
</g>
<text x="13.2" y="327.8" font-size="10.8" font-weight="bold" fill="#1c1c1c" textLength="49.2" lengthAdjust="spacingAndGlyphs">874/2012</text>
<rect x="131" y="310.2" width="29.3" height="19.4" fill="#1f1f92"/>
<circle cx="145.8" cy="314.35" r="0.75" fill="#d2c95a"/>
<circle cx="148.65" cy="315.11" r="0.75" fill="#d2c95a"/>
<circle cx="150.74" cy="317.2" r="0.75" fill="#d2c95a"/>
<circle cx="151.5" cy="320.05" r="0.75" fill="#d2c95a"/>
<circle cx="150.74" cy="322.9" r="0.75" fill="#d2c95a"/>
<circle cx="148.65" cy="324.99" r="0.75" fill="#d2c95a"/>
<circle cx="145.8" cy="325.75" r="0.75" fill="#d2c95a"/>
<circle cx="142.95" cy="324.99" r="0.75" fill="#d2c95a"/>
<circle cx="140.86" cy="322.9" r="0.75" fill="#d2c95a"/>
<circle cx="140.1" cy="320.05" r="0.75" fill="#d2c95a"/>
<circle cx="140.86" cy="317.2" r="0.75" fill="#d2c95a"/>
<circle cx="142.95" cy="315.11" r="0.75" fill="#d2c95a"/>
<path d="M193.6 283.4V315.5M214.2 283.4V315.5" fill="none" stroke="#6a6a6a" stroke-width="3.6" stroke-linejoin="miter" stroke-linecap="butt"/><path d="M192 283.4H196.7L215.8 315.5H211.1Z" fill="#6a6a6a"/>
<path d="M225.5 299.3H232A7 7 0 0 0 232 285.3H225.5V313.6H233.65A7.15 7.15 0 0 0 233.65 299.3" fill="none" stroke="#6a6a6a" stroke-width="3.8" stroke-linejoin="miter" stroke-linecap="butt"/>
</g>
<g transform="translate(0 682.67)">
<rect x="6.05" y="6" width="159.65" height="329.05" rx="2.4" fill="#fff" stroke="#009ee5" stroke-width="3.6"/>
<g transform="translate(0 1.1)">
<text x="12.4" y="31.8" font-size="9.4" fill="#262626" stroke="#262626" stroke-width=".15" textLength="28.6" lengthAdjust="spacingAndGlyphs">vidaXL</text>
<text x="83.19999999999999" y="33.0" font-size="10.4" fill="#262626" stroke="#262626" stroke-width=".12" textLength="34.2" lengthAdjust="spacingAndGlyphs">323713</text>
<line x1="12" y1="44.9" x2="158" y2="44.9" stroke="#12a3e6" stroke-width="1.25"/>
<rect x="12.65" y="52.4" width="43.3" height="43.3" rx="3" fill="none" stroke="#009ee5" stroke-width="1.2"/>
<path d="M28.3 58.2H40L45.6 73.1H35.9V86.9H38A2 2 0 0 1 38 90.9H30A2 2 0 0 1 30 86.9H32.6V73.1H23Z" fill="#009ee5"/>
<g font-size="9.6" fill="#1c1c1c" stroke="#1c1c1c" stroke-width=".36" clip-path="url(#tc)">
<text transform="translate(60.1 57.9) scale(0.9 1)" textLength="78.33" lengthAdjust="spacing">Aceste corpuri de</text>
<text transform="translate(60.1 68.5) scale(0.9 1)" textLength="58.67" lengthAdjust="spacing">iluminat sunt</text>
<text transform="translate(60.1 79.1) scale(0.9 1)" textLength="65.67" lengthAdjust="spacing">compatibile cu</text>
<text transform="translate(60.1 89.7) scale(0.9 1)" textLength="77.67" lengthAdjust="spacing">becuri din clasele</text>
<text transform="translate(60.1 100.3) scale(0.9 1)" textLength="48.56" lengthAdjust="spacing">energetice:</text>
</g>
<path d="M12.2 117.7H35L42.5 125.6L35 133.5H12.2Z" fill="#009640"/>
<text transform="translate(15.6 131) scale(0.93 1)" font-size="14.8" font-weight="bold" fill="#fff">A</text>
<path d="M26.4 122.7H30.2M28.3 120.8V124.6" stroke="#fff" stroke-opacity=".9" stroke-width=".85" fill="none"/>
<path d="M31.4 122.7H35.2M33.3 120.8V124.6" stroke="#fff" stroke-opacity=".9" stroke-width=".85" fill="none"/>
<path d="M12.2 136.22H39.79L47.29 144.12L39.79 152.02H12.2Z" fill="#3aaa35"/>
<text transform="translate(15.6 149.52) scale(0.93 1)" font-size="14.8" font-weight="bold" fill="#fff">A</text>
<path d="M26.4 141.22H30.2M28.3 139.32V143.12" stroke="#fff" stroke-opacity=".9" stroke-width=".85" fill="none"/>
<path d="M12.2 154.74H44.58L52.08 162.64L44.58 170.54H12.2Z" fill="#c1d100"/>
<text transform="translate(15.6 168.04) scale(0.93 1)" font-size="14.8" font-weight="bold" fill="#fff">A</text>
<path d="M12.2 173.26H49.37L56.87 181.16L49.37 189.06H12.2Z" fill="#fdeb00"/>
<text transform="translate(15.9 186.56) scale(0.8 1)" font-size="14.8" font-weight="bold" fill="#fff">B</text>
<path d="M12.2 191.78H54.16L61.66 199.68L54.16 207.58H12.2Z" fill="#fbb900"/>
<text transform="translate(15.5 205.08) scale(0.82 1)" font-size="14.8" font-weight="bold" fill="#fff">C</text>
<path d="M12.2 210.3H58.95L66.45 218.2L58.95 226.1H12.2Z" fill="#ee7203"/>
<text transform="translate(15.9 223.6) scale(0.9 1)" font-size="14.8" font-weight="bold" fill="#fff">D</text>
<path d="M12.2 228.82H63.74L71.24 236.72L63.74 244.62H12.2Z" fill="#e30613"/>
<text transform="translate(15.9 242.12) scale(0.76 1)" font-size="14.8" font-weight="bold" fill="#fff">E</text>
<path d="M95.2 123.7C101 123.5 110.7 126.5 110.7 135.5V172C110.7 176 113 180.5 118 183.3C113 186.1 110.7 190.6 110.7 194.6V232.5C110.7 241.5 101 244.8 95.2 244.8A1.5 1.5 0 0 1 95.2 241.8C100.5 241.8 106.2 239 106.2 232V192C106.2 187.5 108 184.8 111.6 183.3C108 181.8 106.2 179.1 106.2 174.6V136C106.2 129 100.5 126.7 95.2 126.7A1.5 1.5 0 0 1 95.2 123.7Z" fill="#009ee5"/>
<g transform="translate(127.5 176.6) rotate(44)"><path d="M4.95 4.95A7 7 0 1 1 4.95 -4.95Q7 -3.7 11.6 -3.4V3.4Q7 3.7 4.95 4.95Z" fill="#fff" stroke="#2cabe8" stroke-width="1.1" stroke-linejoin="round"/><path d="M11.4 -3.6L19.4 -2A2 2 0 0 1 19.4 2L11.4 3.6Z" fill="url(#bg)"/></g>
</g>
<text x="13.2" y="327.8" font-size="10.8" font-weight="bold" fill="#1c1c1c" textLength="49.2" lengthAdjust="spacingAndGlyphs">874/2012</text>
<rect x="131" y="310.2" width="29.3" height="19.4" fill="#1f1f92"/>
<circle cx="145.8" cy="314.35" r="0.75" fill="#d2c95a"/>
<circle cx="148.65" cy="315.11" r="0.75" fill="#d2c95a"/>
<circle cx="150.74" cy="317.2" r="0.75" fill="#d2c95a"/>
<circle cx="151.5" cy="320.05" r="0.75" fill="#d2c95a"/>
<circle cx="150.74" cy="322.9" r="0.75" fill="#d2c95a"/>
<circle cx="148.65" cy="324.99" r="0.75" fill="#d2c95a"/>
<circle cx="145.8" cy="325.75" r="0.75" fill="#d2c95a"/>
<circle cx="142.95" cy="324.99" r="0.75" fill="#d2c95a"/>
<circle cx="140.86" cy="322.9" r="0.75" fill="#d2c95a"/>
<circle cx="140.1" cy="320.05" r="0.75" fill="#d2c95a"/>
<circle cx="140.86" cy="317.2" r="0.75" fill="#d2c95a"/>
<circle cx="142.95" cy="315.11" r="0.75" fill="#d2c95a"/>
<path d="M193 315.5V285.3H200.55A7.85 7.85 0 0 1 200.55 301H193" fill="none" stroke="#6a6a6a" stroke-width="3.8" stroke-linejoin="miter" stroke-linecap="butt"/><path d="M201.35 300.5L211.61 317.5" fill="none" stroke="#6a6a6a" stroke-width="4.1" stroke-linejoin="miter" stroke-linecap="butt" clip-path="url(#lc)"/>
<ellipse cx="229.25" cy="299.45" rx="12.35" ry="14.95" fill="none" stroke="#6a6a6a" stroke-width="3.8"/>
</g>
<g transform="translate(256 682.67)">
<rect x="6.05" y="6" width="159.65" height="329.05" rx="2.4" fill="#fff" stroke="#009ee5" stroke-width="3.6"/>
<g transform="translate(0 1.1)">
<text x="12.4" y="31.8" font-size="9.4" fill="#262626" stroke="#262626" stroke-width=".15" textLength="28.6" lengthAdjust="spacingAndGlyphs">vidaXL</text>
<text x="82.5" y="33.0" font-size="10.4" fill="#262626" stroke="#262626" stroke-width=".12" textLength="34.2" lengthAdjust="spacingAndGlyphs">323713</text>
<line x1="12" y1="44.9" x2="158" y2="44.9" stroke="#12a3e6" stroke-width="1.25"/>
<rect x="12.65" y="52.4" width="43.3" height="43.3" rx="3" fill="none" stroke="#009ee5" stroke-width="1.2"/>
<path d="M28.3 58.2H40L45.6 73.1H35.9V86.9H38A2 2 0 0 1 38 90.9H30A2 2 0 0 1 30 86.9H32.6V73.1H23Z" fill="#009ee5"/>
<g font-size="9.6" fill="#1c1c1c" stroke="#1c1c1c" stroke-width=".36">
<text transform="translate(60.1 62.16) scale(0.9 1)" textLength="71.56" lengthAdjust="spacing">Toto svietidlo je</text>
<text transform="translate(60.1 72.89) scale(0.9 1)" textLength="65.44" lengthAdjust="spacing">kompatibilné s</text>
<text transform="translate(60.1 83.62) scale(0.9 1)" textLength="71.22" lengthAdjust="spacing">žiarovkami tried</text>
<text transform="translate(60.1 94.34) scale(0.9 1)" textLength="35.22" lengthAdjust="spacing">energie:</text>
</g>
<path d="M12.2 117.7H35L42.5 125.6L35 133.5H12.2Z" fill="#009640"/>
<text transform="translate(15.6 131) scale(0.93 1)" font-size="14.8" font-weight="bold" fill="#fff">A</text>
<path d="M26.4 122.7H30.2M28.3 120.8V124.6" stroke="#fff" stroke-opacity=".9" stroke-width=".85" fill="none"/>
<path d="M31.4 122.7H35.2M33.3 120.8V124.6" stroke="#fff" stroke-opacity=".9" stroke-width=".85" fill="none"/>
<path d="M12.2 136.22H39.79L47.29 144.12L39.79 152.02H12.2Z" fill="#3aaa35"/>
<text transform="translate(15.6 149.52) scale(0.93 1)" font-size="14.8" font-weight="bold" fill="#fff">A</text>
<path d="M26.4 141.22H30.2M28.3 139.32V143.12" stroke="#fff" stroke-opacity=".9" stroke-width=".85" fill="none"/>
<path d="M12.2 154.74H44.58L52.08 162.64L44.58 170.54H12.2Z" fill="#c1d100"/>
<text transform="translate(15.6 168.04) scale(0.93 1)" font-size="14.8" font-weight="bold" fill="#fff">A</text>
<path d="M12.2 173.26H49.37L56.87 181.16L49.37 189.06H12.2Z" fill="#fdeb00"/>
<text transform="translate(15.9 186.56) scale(0.8 1)" font-size="14.8" font-weight="bold" fill="#fff">B</text>
<path d="M12.2 191.78H54.16L61.66 199.68L54.16 207.58H12.2Z" fill="#fbb900"/>
<text transform="translate(15.5 205.08) scale(0.82 1)" font-size="14.8" font-weight="bold" fill="#fff">C</text>
<path d="M12.2 210.3H58.95L66.45 218.2L58.95 226.1H12.2Z" fill="#ee7203"/>
<text transform="translate(15.9 223.6) scale(0.9 1)" font-size="14.8" font-weight="bold" fill="#fff">D</text>
<path d="M12.2 228.82H63.74L71.24 236.72L63.74 244.62H12.2Z" fill="#e30613"/>
<text transform="translate(15.9 242.12) scale(0.76 1)" font-size="14.8" font-weight="bold" fill="#fff">E</text>
<path d="M95.2 123.7C101 123.5 110.7 126.5 110.7 135.5V172C110.7 176 113 180.5 118 183.3C113 186.1 110.7 190.6 110.7 194.6V232.5C110.7 241.5 101 244.8 95.2 244.8A1.5 1.5 0 0 1 95.2 241.8C100.5 241.8 106.2 239 106.2 232V192C106.2 187.5 108 184.8 111.6 183.3C108 181.8 106.2 179.1 106.2 174.6V136C106.2 129 100.5 126.7 95.2 126.7A1.5 1.5 0 0 1 95.2 123.7Z" fill="#009ee5"/>
<g transform="translate(127.5 176.6) rotate(44)"><path d="M4.95 4.95A7 7 0 1 1 4.95 -4.95Q7 -3.7 11.6 -3.4V3.4Q7 3.7 4.95 4.95Z" fill="#fff" stroke="#2cabe8" stroke-width="1.1" stroke-linejoin="round"/><path d="M11.4 -3.6L19.4 -2A2 2 0 0 1 19.4 2L11.4 3.6Z" fill="url(#bg)"/></g>
</g>
<text x="13.2" y="327.8" font-size="10.8" font-weight="bold" fill="#1c1c1c" textLength="49.2" lengthAdjust="spacingAndGlyphs">874/2012</text>
<rect x="131" y="310.2" width="29.3" height="19.4" fill="#1f1f92"/>
<circle cx="145.8" cy="314.35" r="0.75" fill="#d2c95a"/>
<circle cx="148.65" cy="315.11" r="0.75" fill="#d2c95a"/>
<circle cx="150.74" cy="317.2" r="0.75" fill="#d2c95a"/>
<circle cx="151.5" cy="320.05" r="0.75" fill="#d2c95a"/>
<circle cx="150.74" cy="322.9" r="0.75" fill="#d2c95a"/>
<circle cx="148.65" cy="324.99" r="0.75" fill="#d2c95a"/>
<circle cx="145.8" cy="325.75" r="0.75" fill="#d2c95a"/>
<circle cx="142.95" cy="324.99" r="0.75" fill="#d2c95a"/>
<circle cx="140.86" cy="322.9" r="0.75" fill="#d2c95a"/>
<circle cx="140.1" cy="320.05" r="0.75" fill="#d2c95a"/>
<circle cx="140.86" cy="317.2" r="0.75" fill="#d2c95a"/>
<circle cx="142.95" cy="315.11" r="0.75" fill="#d2c95a"/>
<path d="M208.5 286.1C205.8 285.1 203.7 284.5 200.5 284.5C195.1 284.5 192.7 287.1 192.7 291.4C192.7 296 196.9 297.6 200.1 299.4C203.7 301 207.5 302.6 207.5 307.2C207.5 311.9 204.7 314.3 199.5 314.3C195.7 314.3 194.2 313.4 191.3 312.4" fill="none" stroke="#6a6a6a" stroke-width="3.8" stroke-linejoin="round" stroke-linecap="butt"/>
<path d="M217.4 283.4V315.5" fill="none" stroke="#6a6a6a" stroke-width="3.8" stroke-linejoin="miter" stroke-linecap="butt"/><path d="M218 301.3L234.34 281.4" fill="none" stroke="#6a6a6a" stroke-width="4" stroke-linejoin="miter" stroke-linecap="butt" clip-path="url(#lc)"/><path d="M220.9 296.6L234.5 317.5" fill="none" stroke="#6a6a6a" stroke-width="4.2" stroke-linejoin="miter" stroke-linecap="butt" clip-path="url(#lc)"/>
</g>
<g transform="translate(512 682.67)">
<rect x="6.05" y="6" width="159.65" height="329.05" rx="2.4" fill="#fff" stroke="#009ee5" stroke-width="3.6"/>
<g transform="translate(0 1.1)">
<text x="12.4" y="31.8" font-size="9.4" fill="#262626" stroke="#262626" stroke-width=".15" textLength="28.6" lengthAdjust="spacingAndGlyphs">vidaXL</text>
<text x="83.19999999999999" y="33.0" font-size="10.4" fill="#262626" stroke="#262626" stroke-width=".12" textLength="34.2" lengthAdjust="spacingAndGlyphs">323713</text>
<line x1="12" y1="44.9" x2="158" y2="44.9" stroke="#12a3e6" stroke-width="1.25"/>
<rect x="12.65" y="52.4" width="43.3" height="43.3" rx="3" fill="none" stroke="#009ee5" stroke-width="1.2"/>
<path d="M28.3 58.2H40L45.6 73.1H35.9V86.9H38A2 2 0 0 1 38 90.9H30A2 2 0 0 1 30 86.9H32.6V73.1H23Z" fill="#009ee5"/>
<g font-size="9.6" fill="#1c1c1c" stroke="#1c1c1c" stroke-width=".36">
<text transform="translate(60.1 67.52) scale(0.9 1)" textLength="97.33" lengthAdjust="spacing">Ta svetilka je združljiv</text>
<text transform="translate(60.1 78.25) scale(0.9 1)" textLength="94.22" lengthAdjust="spacing">z čebulic energetskih</text>
<text transform="translate(60.1 88.98) scale(0.9 1)" textLength="40.22" lengthAdjust="spacing">razredov:</text>
</g>
<path d="M12.2 117.7H35L42.5 125.6L35 133.5H12.2Z" fill="#009640"/>
<text transform="translate(15.6 131) scale(0.93 1)" font-size="14.8" font-weight="bold" fill="#fff">A</text>
<path d="M26.4 122.7H30.2M28.3 120.8V124.6" stroke="#fff" stroke-opacity=".9" stroke-width=".85" fill="none"/>
<path d="M31.4 122.7H35.2M33.3 120.8V124.6" stroke="#fff" stroke-opacity=".9" stroke-width=".85" fill="none"/>
<path d="M12.2 136.22H39.79L47.29 144.12L39.79 152.02H12.2Z" fill="#3aaa35"/>
<text transform="translate(15.6 149.52) scale(0.93 1)" font-size="14.8" font-weight="bold" fill="#fff">A</text>
<path d="M26.4 141.22H30.2M28.3 139.32V143.12" stroke="#fff" stroke-opacity=".9" stroke-width=".85" fill="none"/>
<path d="M12.2 154.74H44.58L52.08 162.64L44.58 170.54H12.2Z" fill="#c1d100"/>
<text transform="translate(15.6 168.04) scale(0.93 1)" font-size="14.8" font-weight="bold" fill="#fff">A</text>
<path d="M12.2 173.26H49.37L56.87 181.16L49.37 189.06H12.2Z" fill="#fdeb00"/>
<text transform="translate(15.9 186.56) scale(0.8 1)" font-size="14.8" font-weight="bold" fill="#fff">B</text>
<path d="M12.2 191.78H54.16L61.66 199.68L54.16 207.58H12.2Z" fill="#fbb900"/>
<text transform="translate(15.5 205.08) scale(0.82 1)" font-size="14.8" font-weight="bold" fill="#fff">C</text>
<path d="M12.2 210.3H58.95L66.45 218.2L58.95 226.1H12.2Z" fill="#ee7203"/>
<text transform="translate(15.9 223.6) scale(0.9 1)" font-size="14.8" font-weight="bold" fill="#fff">D</text>
<path d="M12.2 228.82H63.74L71.24 236.72L63.74 244.62H12.2Z" fill="#e30613"/>
<text transform="translate(15.9 242.12) scale(0.76 1)" font-size="14.8" font-weight="bold" fill="#fff">E</text>
<path d="M95.2 123.7C101 123.5 110.7 126.5 110.7 135.5V172C110.7 176 113 180.5 118 183.3C113 186.1 110.7 190.6 110.7 194.6V232.5C110.7 241.5 101 244.8 95.2 244.8A1.5 1.5 0 0 1 95.2 241.8C100.5 241.8 106.2 239 106.2 232V192C106.2 187.5 108 184.8 111.6 183.3C108 181.8 106.2 179.1 106.2 174.6V136C106.2 129 100.5 126.7 95.2 126.7A1.5 1.5 0 0 1 95.2 123.7Z" fill="#009ee5"/>
<g transform="translate(127.5 176.6) rotate(44)"><path d="M4.95 4.95A7 7 0 1 1 4.95 -4.95Q7 -3.7 11.6 -3.4V3.4Q7 3.7 4.95 4.95Z" fill="#fff" stroke="#2cabe8" stroke-width="1.1" stroke-linejoin="round"/><path d="M11.4 -3.6L19.4 -2A2 2 0 0 1 19.4 2L11.4 3.6Z" fill="url(#bg)"/></g>
</g>
<text x="13.2" y="327.8" font-size="10.8" font-weight="bold" fill="#1c1c1c" textLength="49.2" lengthAdjust="spacingAndGlyphs">874/2012</text>
<rect x="131" y="310.2" width="29.3" height="19.4" fill="#1f1f92"/>
<circle cx="145.8" cy="314.35" r="0.75" fill="#d2c95a"/>
<circle cx="148.65" cy="315.11" r="0.75" fill="#d2c95a"/>
<circle cx="150.74" cy="317.2" r="0.75" fill="#d2c95a"/>
<circle cx="151.5" cy="320.05" r="0.75" fill="#d2c95a"/>
<circle cx="150.74" cy="322.9" r="0.75" fill="#d2c95a"/>
<circle cx="148.65" cy="324.99" r="0.75" fill="#d2c95a"/>
<circle cx="145.8" cy="325.75" r="0.75" fill="#d2c95a"/>
<circle cx="142.95" cy="324.99" r="0.75" fill="#d2c95a"/>
<circle cx="140.86" cy="322.9" r="0.75" fill="#d2c95a"/>
<circle cx="140.1" cy="320.05" r="0.75" fill="#d2c95a"/>
<circle cx="140.86" cy="317.2" r="0.75" fill="#d2c95a"/>
<circle cx="142.95" cy="315.11" r="0.75" fill="#d2c95a"/>
<path d="M209 286.1C206.3 285.1 204.25 284.5 201.05 284.5C195.65 284.5 193.3 287.1 193.3 291.4C193.3 296 197.45 297.6 200.65 299.4C204.25 301 208 302.6 208 307.2C208 311.9 205.25 314.3 200.05 314.3C196.25 314.3 194.8 313.4 191.9 312.4" fill="none" stroke="#6a6a6a" stroke-width="3.8" stroke-linejoin="round" stroke-linecap="butt"/>
<path d="M217.9 283.4V313.6H231.1" fill="none" stroke="#6a6a6a" stroke-width="3.8" stroke-linejoin="miter" stroke-linecap="butt"/>
</g>
<path d="M0 0V1024M256 0V1024M512 0V1024M768 0V1024M1024 0V1024M0 0H1024M0 341.33H1024M0 682.67H1024M0 1024H1024" stroke="#707070" stroke-width="1.8" fill="none"/>
</svg></body></html>
